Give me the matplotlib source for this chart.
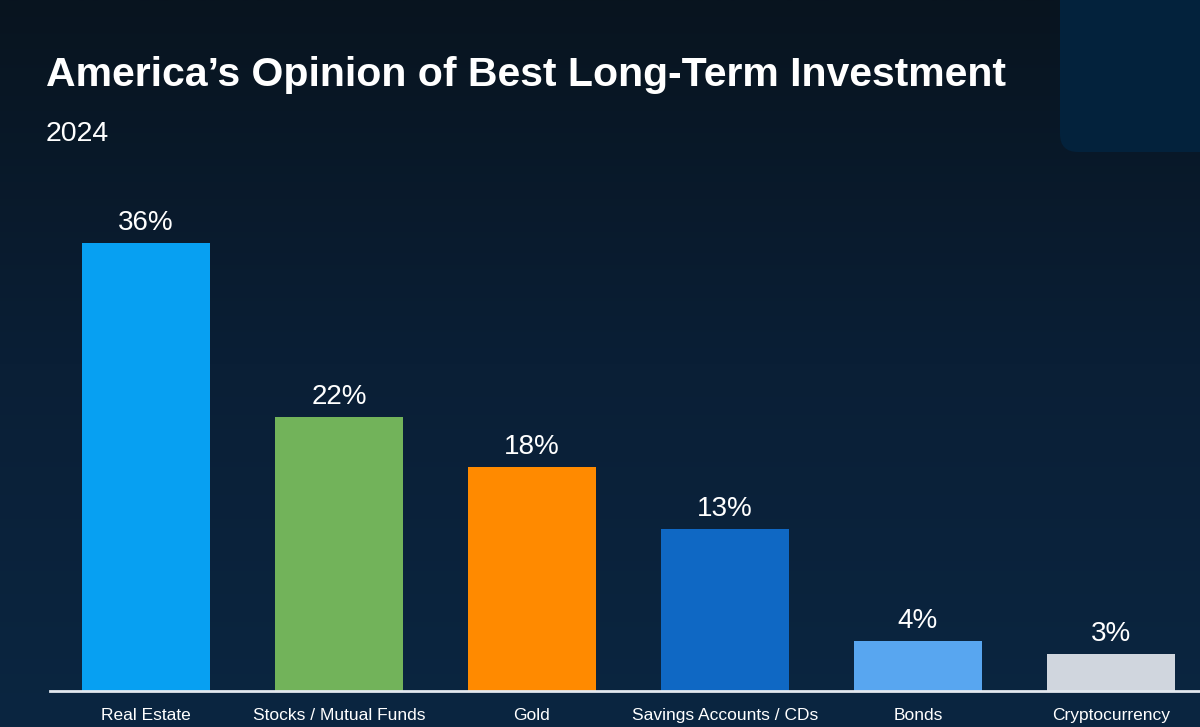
import numpy as np
import matplotlib.pyplot as plt
from matplotlib.patches import FancyBboxPatch
from matplotlib.colors import LinearSegmentedColormap

categories = ["Real Estate", "Stocks / Mutual Funds", "Gold", "Savings Accounts / CDs", "Bonds", "Cryptocurrency"]
values = [36, 22, 18, 13, 4, 3]
bar_colors = ["#07a0f2", "#72b35a", "#ff8a00", "#0f68c4", "#58a6f0", "#d0d6de"]

plt.rcParams['font.family'] = ['Liberation Sans', 'DejaVu Sans']

fig = plt.figure(figsize=(12, 7.27), dpi=100)

# background gradient, dark at top, navy at bottom
bg = fig.add_axes([0, 0, 1, 1], zorder=0)
grad = np.linspace(0, 1, 256).reshape(-1, 1)
cmap = LinearSegmentedColormap.from_list("bg", ["#0b2641", "#0a1f36", "#08141f"])
bg.imshow(grad, aspect='auto', cmap=cmap, origin='lower', extent=[0, 1, 0, 1])
bg.set_xlim(0, 1)
bg.set_ylim(0, 1)
bg.axis('off')

# rounded panel in the top right corner
bg.add_patch(FancyBboxPatch((1060/1200, 1 - 152/727), 0.2, 0.3,
                            boxstyle="round,pad=0,rounding_size=0.015",
                            fc="#03223c", ec="none", transform=bg.transAxes, mutation_aspect=1200/727))

fig.text(46/1200, 1 - 75/727, "America\u2019s Opinion of Best Long-Term Investment",
         color="white", fontsize=29.5, fontweight='bold', va='center', ha='left')
fig.text(46/1200, 1 - 134/727, "2024", color="white", fontsize=20.5, va='center', ha='left')

# axes placed so bars sit where they do in the picture
x0, base, step = 146, 691, 193
ax = fig.add_axes([50/1200, (727 - base)/727, 1150/1200, 500/727], zorder=1)
ax.patch.set_alpha(0)
x = np.arange(len(categories))
bars = ax.bar(x, values, width=128/step, color=bar_colors, zorder=2)
ax.set_xlim(-(x0 - 50)/step, (1200 - x0)/step)
ax.set_ylim(0, 500/12.45)

for b, v in zip(bars, values):
    ax.annotate(f"{v}%", (b.get_x() + b.get_width()/2, v), xytext=(0, 5), textcoords='offset points',
                ha='center', va='bottom', color='white', fontsize=20)

ax.set_xticks(x)
ax.set_xticklabels(categories, color='white', fontsize=12.5)
ax.tick_params(axis='x', length=0, pad=12)
ax.set_yticks([])
for s in ['top', 'right', 'left']:
    ax.spines[s].set_visible(False)
ax.spines['bottom'].set_color('#e3e8ef')
ax.spines['bottom'].set_linewidth(2)
ax.spines['bottom'].set_zorder(3)

fig.savefig("out.png", dpi=100, facecolor="#08141f")
